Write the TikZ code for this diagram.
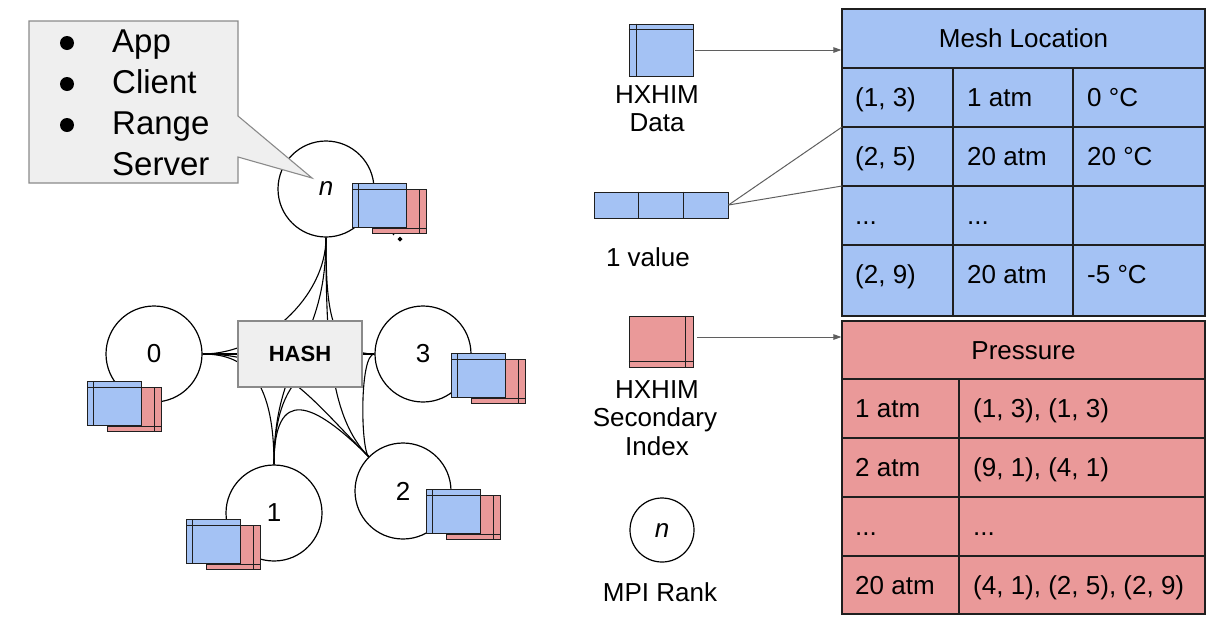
\documentclass[tikz,border=0pt]{standalone}
\usepackage{fontspec}
\setmainfont{Liberation Sans}
\usetikzlibrary{arrows.meta}
\definecolor{blu}{HTML}{A4C2F4}
\definecolor{pnk}{HTML}{EA9999}
\definecolor{lgray}{HTML}{EFEFEF}
\definecolor{bgray}{HTML}{8A8A8A}
\definecolor{agray}{HTML}{5F5F5F}
\definecolor{tb}{HTML}{1F1F1F}
\tikzset{
  rank/.style={circle, draw=black, line width=1.2pt, fill=white, minimum size=96pt, inner sep=0pt, font=\fontsize{26}{30}\selectfont},
  link/.style={draw=black, line width=1.1pt},
  hashbox/.style={draw=bgray, fill=lgray, line width=1.1pt, minimum width=124pt, minimum height=66pt, inner sep=0pt, font=\bfseries\fontsize{22}{26}\selectfont},
  txt/.style={font=\fontsize{26}{30}\selectfont, inner sep=0pt},
  calltxt/.style={font=\fontsize{33}{40}\selectfont, inner sep=0pt, anchor=base west},
  icon/.style={draw=tb, line width=1pt},
  tline/.style={draw=tb, line width=1.2pt},
  cell/.style={txt, anchor=base west},
  arrowline/.style={draw=agray, line width=1pt, -{Triangle[length=8pt,width=5.5pt]}},
  plainline/.style={draw=agray, line width=1pt},
  stack/.pic={
    \draw[icon, fill=pnk] (20,6) rectangle (74,50);
    \draw[icon] (67,6) -- (67,50) (20,45) -- (74,45);
    \draw[icon, fill=blu] (0,0) rectangle (54,44);
    \draw[icon] (6,0) -- (6,44) (0,6) -- (54,6);
  }
}
\begin{document}
\begin{tikzpicture}[x=1pt,y=-1pt]
\useasboundingbox (0,0) rectangle (1214,619);

% ranks
\node[rank] (n) at (326,189) {\itshape n};
\node[rank] (c0) at (154,354) {0};
\node[rank] (c3) at (423,354) {3};
\node[rank] (c1) at (274,513) {1};
\node[rank] (c2) at (403,491) {2};

% all-to-all links
\draw[link] (n.south) .. controls +(0,60) and +(60,0) .. (c0.east);
\draw[link] (n.south) .. controls +(0,70) and +(-45,0) .. (c3.west);
\draw[link] (n.south) .. controls +(0,110) and +(0,-110) .. (c1.north);
\draw[link] (n.south) .. controls +(0,100) and +(-40,-40) .. (c2.135);
\draw[link] (c0.east) .. controls +(40,0) and +(0,-90) .. (c1.north);
\draw[link] (c0.east) .. controls +(80,0) and +(-60,-60) .. (c2.135);
\draw[link] (c0.east) -- (c3.west);
\draw[link] (c1.north) .. controls +(0,-80) and +(-55,-55) .. (c2.135);
\draw[link] (c1.north) .. controls +(0,-90) and +(-60,0) .. (c3.west);
\draw[link] (c2.135) .. controls +(-8,-8) and +(-15,0) .. (c3.west);

% hash
\node[hashbox] (hash) at (300,354) {HASH};

% data stacks on ranks
\pic at (352,183) {stack};
\pic at (87,381) {stack};
\pic at (451,353) {stack};
\pic at (186,519) {stack};
\pic at (426,489) {stack};
\fill[black] (400,236.5) -- (402.5,239) -- (400,241.5) -- (397.5,239) -- cycle;
\fill[black] (393.5,234.5) circle[radius=0.8pt];

% callout
\draw[draw=bgray, fill=lgray, line width=1.1pt] (29,21) -- (238,21) -- (238,116) -- (312,178) -- (238,157) -- (238,183) -- (29,183) -- cycle;
\fill[black] (67,43) circle[radius=7pt];
\fill[black] (67,84) circle[radius=7pt];
\fill[black] (67,125) circle[radius=7pt];
\node[calltxt] (tapp) at (112,52.7) {App};
\node[calltxt] (tcli) at (112,93.3) {Client};
\node[calltxt] (trng) at (112,134.3) {Range};
\node[calltxt] (tsrv) at (112,175) {Server};

% legend: data icon
\node[icon, fill=blu, minimum width=64pt, minimum height=52pt, inner sep=0pt] (dataicon) at (661,50) {};
\draw[icon] ([xshift=8pt]dataicon.north west) -- ([xshift=8pt]dataicon.south west);
\draw[icon] ([yshift=-6pt]dataicon.north west) -- ([yshift=-6pt]dataicon.north east);
\node[txt, anchor=base] (ldata1) at (657,103.3) {HXHIM};
\node[txt, anchor=base] (ldata2) at (657,131.7) {Data};

% legend: one value
\node[icon, fill=blu, minimum width=134pt, minimum height=26pt, inner sep=0pt] (valicon) at (661,205) {};
\draw[icon] ([xshift=45pt]valicon.north west) -- ([xshift=45pt]valicon.south west);
\draw[icon] ([xshift=90pt]valicon.north west) -- ([xshift=90pt]valicon.south west);
\node[txt, anchor=base] (lval) at (648,266.7) {1 value};

% legend: secondary index icon
\node[icon, fill=pnk, minimum width=64pt, minimum height=51pt, inner sep=0pt] (sidxicon) at (661,341.5) {};
\draw[icon] ([xshift=-8pt]sidxicon.north east) -- ([xshift=-8pt]sidxicon.south east);
\draw[icon] ([yshift=6pt]sidxicon.south west) -- ([yshift=6pt]sidxicon.south east);
\node[txt, anchor=base] (lsidx1) at (657,398.3) {HXHIM};
\node[txt, anchor=base] (lsidx2) at (655,426.7) {Secondary};
\node[txt, anchor=base] (lsidx3) at (657,455) {Index};

% legend: rank
\node[rank, minimum size=64pt] (legn) at (662,530) {\itshape n};
\node[txt, anchor=base] (lmpi) at (660,601.7) {MPI Rank};

% mesh location table
\node[tline, fill=blu, minimum width=363pt, minimum height=307pt, inner sep=0pt] (meshtab) at (1023.5,162.5) {};
\draw[tline] (842,68) -- (1205,68) (842,127) -- (1205,127) (842,186) -- (1205,186) (842,245) -- (1205,245);
\draw[tline] (953,68) -- (953,316) (1073,68) -- (1073,316);
\node[txt, anchor=base] (mhead) at (1023.5,47.5) {Mesh Location};
\node[cell] (m11) at (855,106) {(1, 3)};
\node[cell] (m12) at (967,106) {1 atm};
\node[cell] (m13) at (1087,106) {0 °C};
\node[cell] (m21) at (855,165) {(2, 5)};
\node[cell] (m22) at (967,165) {20 atm};
\node[cell] (m23) at (1087,165) {20 °C};
\node[cell] (m31) at (855,224) {...};
\node[cell] (m32) at (967,224) {...};
\node[cell] (m41) at (855,283) {(2, 9)};
\node[cell] (m42) at (967,283) {20 atm};
\node[cell] (m43) at (1087,283) {-5 °C};
\coordinate (mrowa) at (842,127);
\coordinate (mrowb) at (842,186);

% pressure table
\node[tline, fill=pnk, minimum width=363pt, minimum height=293pt, inner sep=0pt] (prestab) at (1023.5,467.5) {};
\draw[tline] (842,379) -- (1205,379) (842,438) -- (1205,438) (842,497) -- (1205,497) (842,556) -- (1205,556);
\draw[tline] (959,379) -- (959,614);
\node[txt, anchor=base] (phead) at (1023.5,359.3) {Pressure};
\node[cell] (p11) at (855,417) {1 atm};
\node[cell] (p12) at (973,417) {(1, 3), (1, 3)};
\node[cell] (p21) at (855,476) {2 atm};
\node[cell] (p22) at (973,476) {(9, 1), (4, 1)};
\node[cell] (p31) at (855,535) {...};
\node[cell] (p32) at (973,535) {...};
\node[cell] (p41) at (855,594) {20 atm};
\node[cell] (p42) at (973,594) {(4, 1), (2, 5), (2, 9)};

% connectors from legend
\draw[arrowline] ([xshift=1pt]dataicon.east) -- (meshtab.west |- dataicon.east);
\draw[plainline] (valicon.east) -- (mrowa);
\draw[plainline] (valicon.east) -- (mrowb);
\coordinate (sidxout) at (697,337);
\draw[arrowline] (sidxout) -- (prestab.west |- sidxout);
\end{tikzpicture}
\end{document}
